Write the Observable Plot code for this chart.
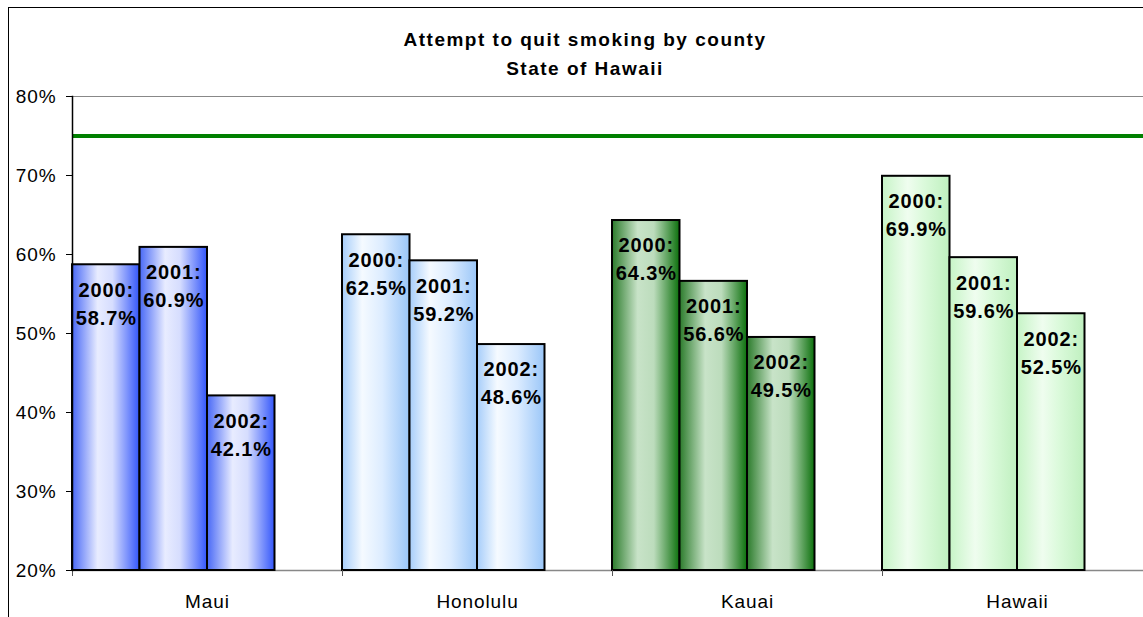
<!DOCTYPE html>
<html>
<head>
<meta charset="utf-8">
<script src="https://cdn.jsdelivr.net/npm/d3@7"></script>
<script src="https://cdn.jsdelivr.net/npm/@observablehq/plot@0.6"></script>
<style>
  html, body { margin: 0; padding: 0; background: #fff; overflow: hidden; }
  #page { width: 1143px; height: 617px; overflow: hidden; position: relative; font-family: "Liberation Sans", Arial, sans-serif; }
  #title { position: absolute; left: 0; top: 25px; width: 1170px; text-align: center; font-weight: bold; font-size: 19px; letter-spacing: 1.5px; line-height: 29px; color: #000; }
  #chart { position: absolute; left: 0; top: 80px; width: 1152px; }
  #chart svg { max-width: none !important; }
  #chart svg text { letter-spacing: 0.9px; }
  #frame { position: absolute; left: 8px; top: 7px; width: 1400px; height: 900px; border: 1px solid #000; pointer-events: none; }
</style>
</head>
<body>
<div id="page">
<div id="title">Attempt to quit smoking by county<br>State of Hawaii</div>
<div id="chart"></div>
<div id="frame"></div>
</div>
<script>
// ---- data ----
const counties = ["Maui", "Honolulu", "Kauai", "Hawaii"];
const years = ["2000", "2001", "2002"];
const values2000 = [58.7, 62.5, 64.3, 69.9];
const values2001 = [60.9, 59.2, 56.6, 59.6];
const values2002 = [42.1, 48.6, 49.5, 52.5];
const targetLine = [75];
const yTicks = [20, 30, 40, 50, 60, 70, 80];

// ---- styles ----
const gradientStops = {
  Maui:     [[0, "#4868f6"], [0.38, "#e8ecff"], [0.6, "#d6ddfe"], [1, "#3356fa"]],
  Honolulu: [[0, "#a6cdfa"], [0.3, "#f5faff"], [0.6, "#dcecff"], [1, "#9ac6f8"]],
  Kauai:    [[0, "#2b7b2b"], [0.38, "#c8e3c8"], [0.62, "#bcdcbc"], [1, "#0c700c"]],
  Hawaii:   [[0, "#c6f4c6"], [0.38, "#effdef"], [0.62, "#dbfadb"], [1, "#bff0bf"]]
};

const seriesByYear = [values2000, values2001, values2002];
const data = [];
counties.forEach((county, ci) => {
  years.forEach((year, yi) => {
    data.push({county, year, i: yi, value: seriesByYear[yi][ci], fill: `url(#grad-${county})`});
  });
});

const chart = Plot.plot({
  width: 1152,
  height: 537,
  marginLeft: 72,
  marginRight: 0,
  marginTop: 16,
  marginBottom: 47,
  style: {fontFamily: '"Liberation Sans", Arial, sans-serif', background: "transparent", color: "#000", overflow: "visible", maxWidth: "none"},
  fx: {domain: counties, padding: 0, axis: null},
  x: {domain: [0, years.length + 1], axis: null},
  y: {domain: [yTicks[0], yTicks[yTicks.length - 1]], axis: null},
  marks: [
    Plot.ruleY([yTicks[yTicks.length - 1]], {stroke: "#888", strokeWidth: 1}),
    Plot.ruleY([yTicks[0]], {stroke: "#888", strokeWidth: 1.5}),
    Plot.rectY(data, {
      fx: "county",
      x1: "i",
      x2: d => d.i + 1,
      y1: yTicks[0],
      y2: "value",
      fill: "fill",
      stroke: "#000",
      strokeWidth: 2
    }),
    Plot.ruleY(targetLine, {stroke: "#008000", strokeWidth: 4}),
    Plot.text(data, {
      fx: "county",
      x: d => d.i + 0.5,
      y: "value",
      text: d => `${d.year}:\n${d.value.toFixed(1)}%`,
      lineAnchor: "top",
      lineHeight: 1.4,
      dy: 12,
      fontSize: 20,
      fontWeight: "bold",
      fill: "#000"
    }),
    Plot.axisX({ticks: [0], tickSize: 6, tickFormat: () => "", stroke: "#555", label: null}),
    Plot.axisFx({anchor: "bottom", tickSize: 0, tickPadding: 24, fontSize: 19, label: null}),
    Plot.axisY({ticks: yTicks, tickFormat: d => d + "%", tickSize: 6, tickPadding: 10, fontSize: 19, label: null}),
    Plot.frame({anchor: "left", facetAnchor: "left", stroke: "#000", strokeWidth: 1.5})
  ]
});

// gradient definitions
const svg = d3.select(chart.tagName.toLowerCase() === "svg" ? chart : chart.querySelector("svg"));
const defs = svg.insert("defs", ":first-child");
for (const county of counties) {
  const g = defs.append("linearGradient").attr("id", `grad-${county}`)
    .attr("x1", "0").attr("x2", "1").attr("y1", "0").attr("y2", "0");
  for (const [o, c] of gradientStops[county]) g.append("stop").attr("offset", o).attr("stop-color", c);
}

document.getElementById("chart").appendChild(chart);
</script>
</body>
</html>
